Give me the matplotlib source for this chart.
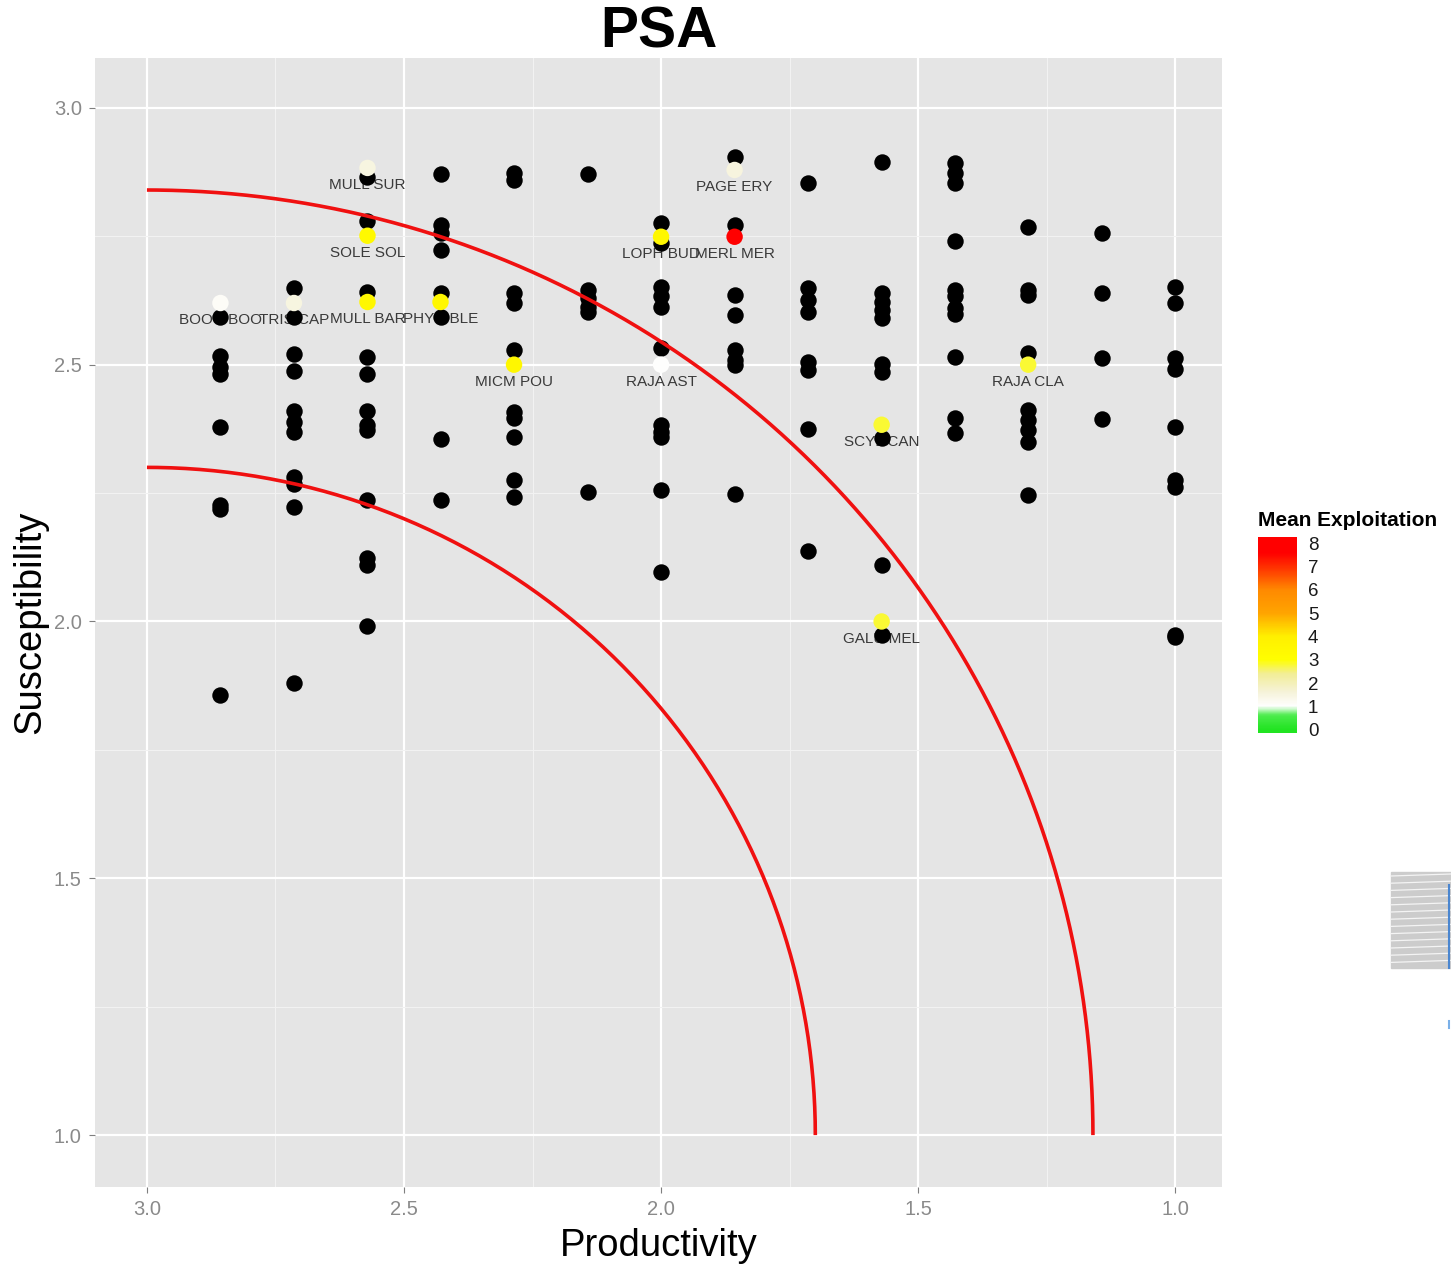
import numpy as np
import matplotlib
matplotlib.use("Agg")
import matplotlib.pyplot as plt
from matplotlib.colors import LinearSegmentedColormap, Normalize
from matplotlib.patches import Rectangle
from matplotlib.lines import Line2D

# productivity scores are means of 7 attributes, so they sit on a fixed grid
prod_levels = [2.857, 2.714, 2.571, 2.429, 2.286, 2.143, 2.0,
               1.857, 1.714, 1.571, 1.429, 1.286, 1.143, 1.0]

# susceptibility of the stocks with no exploitation estimate, one list per level
susc_by_level = [
    [2.593, 2.517, 2.496, 2.482, 2.379, 2.226, 2.218, 1.857],
    [2.649, 2.593, 2.521, 2.488, 2.409, 2.389, 2.368, 2.281, 2.268, 2.223, 1.880],
    [2.866, 2.780, 2.642, 2.515, 2.482, 2.410, 2.383, 2.373, 2.237, 2.124, 2.110, 1.991],
    [2.871, 2.772, 2.756, 2.723, 2.640, 2.593, 2.355, 2.237],
    [2.873, 2.860, 2.640, 2.620, 2.529, 2.408, 2.396, 2.359, 2.276, 2.243],
    [2.871, 2.646, 2.630, 2.612, 2.603, 2.252],
    [2.776, 2.737, 2.652, 2.633, 2.613, 2.533, 2.383, 2.369, 2.359, 2.256, 2.096],
    [2.905, 2.772, 2.636, 2.597, 2.529, 2.509, 2.500, 2.248],
    [2.854, 2.649, 2.626, 2.603, 2.505, 2.490, 2.375, 2.137],
    [2.895, 2.640, 2.622, 2.607, 2.591, 2.502, 2.486, 2.357, 2.110, 1.974],
    [2.893, 2.873, 2.854, 2.741, 2.646, 2.634, 2.611, 2.599, 2.515, 2.396, 2.367],
    [2.768, 2.646, 2.636, 2.523, 2.412, 2.392, 2.373, 2.350, 2.246],
    [2.756, 2.640, 2.513, 2.394],
    [2.651, 2.620, 2.513, 2.492, 2.379, 2.276, 2.262, 1.974, 1.970],
]

# assessed stocks with a mean exploitation value
stock_names = ["BOOC BOO", "TRIS CAP", "MULL BAR", "PHYC BLE", "MULL SUR",
               "SOLE SOL", "MICM POU", "LOPH BUD", "MERL MER", "PAGE ERY",
               "RAJA AST", "SCYL CAN", "GALU MEL", "RAJA CLA"]
stock_prod = [2.857, 2.714, 2.571, 2.429, 2.571, 2.571, 2.286, 2.0, 1.857,
              1.857, 2.0, 1.571, 1.571, 1.286]
stock_susc = [2.620, 2.620, 2.622, 2.622, 2.883, 2.751, 2.500, 2.749, 2.749,
              2.879, 2.500, 2.383, 2.000, 2.500]
stock_expl = [1.15, 1.5, 3.5, 3.5, 1.5, 3.4, 3.5, 3.5, 7.8, 1.55, 1.05,
              2.8, 2.8, 2.8]

# vulnerability contours, distance from the low-risk corner (P=3, S=1)
risk_radii = [1.3, 1.84]

legend_ticks = [0, 1, 2, 3, 4, 5, 6, 7, 8]

# colour ramp for mean exploitation
ramp = [(0.0, "#22e422"), (0.6, "#4cec4c"), (1.0, "#ffffff"), (1.6, "#f6f3da"),
        (2.4, "#f2ee96"), (3.0, "#ffff00"), (4.0, "#fff000"), (5.0, "#ffa500"),
        (6.0, "#ff8a00"), (7.0, "#ff3000"), (7.6, "#ff0000"), (8.0, "#ff0000")]
cmap = LinearSegmentedColormap.from_list("expl", [(v / 8.0, c) for v, c in ramp])
norm = Normalize(0, 8)

W, H = 1451, 1267
plt.rcParams["font.family"] = ["Liberation Sans", "DejaVu Sans"]

fig = plt.figure(figsize=(W / 100, H / 100), dpi=100)
ax = fig.add_axes([95 / W, 1 - 1187 / H, (1222 - 95) / W, (1187 - 58) / H])
ax.set_facecolor("#e5e5e5")
for s in ax.spines.values():
    s.set_visible(False)

ax.set_xlim(3.101, 0.909)
ax.set_ylim(0.899, 3.097)
ax.set_xticks([3.0, 2.5, 2.0, 1.5, 1.0])
ax.set_yticks([1.0, 1.5, 2.0, 2.5, 3.0])
ax.set_xticks([2.75, 2.25, 1.75, 1.25], minor=True)
ax.set_yticks([1.25, 1.75, 2.25, 2.75], minor=True)
ax.grid(which="major", color="white", linewidth=1.6)
ax.grid(which="minor", color="#f2f2f2", linewidth=0.8)
ax.set_axisbelow(True)
ax.tick_params(which="major", length=4.5, width=0.8, color="#7f7f7f",
               labelcolor="#8a8a8a", labelsize=14.5, pad=5)
ax.tick_params(which="minor", length=0)

# unassessed stocks
for p, col in zip(prod_levels, susc_by_level):
    ax.scatter([p] * len(col), col, s=140, color="black", linewidths=0, zorder=3)

# stock codes sit just below their point
for name, p, s in zip(stock_names, stock_prod, stock_susc):
    ax.text(p, s - 0.034, name, ha="center", va="center", fontsize=11,
            color="#3a3a3a", zorder=2)

ax.scatter(stock_prod, stock_susc, s=140, c=stock_expl, cmap=cmap, norm=norm,
           linewidths=0, zorder=4)

theta = np.linspace(0, np.pi / 2, 300)
for r in risk_radii:
    ax.plot(3 - r * np.cos(theta), 1 + r * np.sin(theta), color="#f01010",
            linewidth=2.6, zorder=5, solid_capstyle="butt")

ax.set_xlabel("Productivity", fontsize=27.5, labelpad=6)
ax.set_ylabel("Susceptibility", fontsize=27.5, labelpad=4)
fig.text((95 + 1222) / 2 / W, 1 - 32 / H, "PSA", ha="center", va="center",
         fontsize=41, fontweight="bold")

# colour bar legend
lo, hi = -0.13, 8.26
cax = fig.add_axes([1258 / W, 1 - 733 / H, 39 / W, 196 / H])
grad = np.linspace(lo, hi, 300).reshape(-1, 1)
cax.imshow(grad, cmap=cmap, norm=norm, aspect="auto", origin="lower",
           extent=[0, 1, lo, hi])
cax.set_ylim(lo, hi)
cax.set_xticks([])
cax.set_yticks(legend_ticks)
cax.yaxis.tick_right()
cax.tick_params(axis="y", length=0, pad=8, labelsize=13.5, labelcolor="#1a1a1a")
for s in cax.spines.values():
    s.set_visible(False)
fig.text(1258 / W, 1 - 520 / H, "Mean Exploitation", ha="left", va="center",
         fontsize=15, fontweight="bold")

# clipped striped fragment at the right edge
x0, x1 = 1391 / W, 1451 / W
fig.add_artist(Rectangle((x0, 1 - 968 / H), x1 - x0, 96 / H,
                         transform=fig.transFigure, color="#cccccc", zorder=0))
for py in np.arange(876, 968, 7.2):
    fig.add_artist(Line2D([x0, x1], [1 - py / H, 1 - (py - 2) / H],
                          transform=fig.transFigure, color="#f4f4f4", linewidth=0.9))
fig.add_artist(Line2D([1449 / W, 1449 / W], [1 - 968 / H, 1 - 885 / H],
                      transform=fig.transFigure, color="#4a86d0", linewidth=1.5))
fig.add_artist(Line2D([1449 / W, 1449 / W], [1 - 1028 / H, 1 - 1021 / H],
                      transform=fig.transFigure, color="#7ab0e8", linewidth=1.5))

fig.savefig("out.png", dpi=100, facecolor="white")
